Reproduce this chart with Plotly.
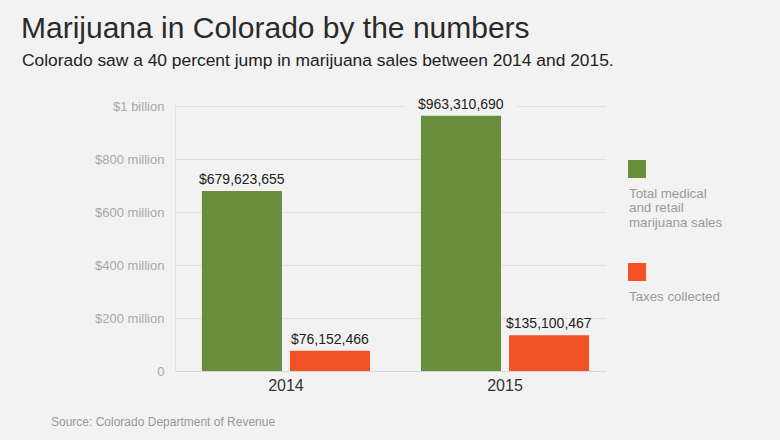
import plotly.graph_objects as go

years = ["2014", "2015"]
sales = [679623655, 963310690]
taxes = [76152466, 135100467]
series_lines = [["Total medical", "and retail", "marijuana sales"], ["Taxes collected"]]
series_names = [" ".join(l) for l in series_lines]
colors = ["#688d3b", "#f25125"]
tick_vals = [0, 200e6, 400e6, 600e6, 800e6, 1e9]
tick_text = ["0", "$200 million", "$400 million", "$600 million", "$800 million", "$1 billion"]

BG = "#f2f2f2"
FONT = "Liberation Sans"
BARGAP = 0.196
GROUPGAP = 0.091

# plot area in pixels
L, R, T, B = 176, 606, 105, 371
W, H = 780, 440
Y_TOP = 1.004e9

def money(v):
    return "${:,}".format(v)

x_pos = list(range(len(years)))

fig = go.Figure()
all_vals = [sales, taxes]
for name, vals, col in zip(series_names, all_vals, colors):
    fig.add_trace(go.Bar(
        x=x_pos, y=vals, name=name,
        marker=dict(color=col, line=dict(width=0)),
        showlegend=False, hoverinfo="y",
    ))

fig.update_layout(
    width=W, height=H,
    paper_bgcolor=BG, plot_bgcolor=BG,
    margin=dict(l=L, r=W - R, t=T, b=H - B, pad=0),
    barmode="group", bargap=BARGAP, bargroupgap=GROUPGAP,
    font=dict(family=FONT),
    xaxis=dict(
        range=[-0.502, 1.461], tickvals=x_pos, ticktext=years,
        showgrid=False, zeroline=False, showline=False, ticks="",
        ticklabelstandoff=3,
        tickfont=dict(family=FONT, size=16, color="#333333"),
    ),
    yaxis=dict(
        range=[0, Y_TOP], tickvals=tick_vals, ticktext=tick_text,
        showgrid=True, gridcolor="#e0e0e0", gridwidth=1,
        zeroline=True, zerolinecolor="#d8d8d8", zerolinewidth=1,
        showline=True, linecolor="#e0e0e0", linewidth=1,
        ticks="", ticklabelstandoff=8,
        tickfont=dict(family=FONT, size=13, color="#a8a8a8"),
    ),
)

# value labels above bars; a background patch (between grid and bars) hides the gridline
n_series = len(all_vals)
slot = (1 - BARGAP) / n_series
for s, vals in enumerate(all_vals):
    off = -(1 - BARGAP) / 2 + slot * (s + 0.5)
    for i, v in enumerate(vals):
        xc = x_pos[i] + off
        fig.add_shape(type="rect", xref="x", yref="y", layer="between",
                      xsizemode="pixel", xanchor=xc, x0=-56, x1=56,
                      ysizemode="pixel", yanchor=v, y0=4, y1=16,
                      fillcolor=BG, line=dict(width=0))
        fig.add_annotation(x=xc, y=v, xref="x", yref="y",
                           text=money(v), showarrow=False,
                           xanchor="center", yanchor="bottom", yshift=2,
                           font=dict(family=FONT, size=14, color="#222222"))

# Title, subtitle, source (pixel placement relative to paper)
def px_x(px):
    return (px - L) / (R - L)

def px_y(py):
    return (B - py) / (B - T)

fig.add_annotation(text="Marijuana in Colorado by the numbers", xref="paper", yref="paper",
                   x=px_x(19), y=px_y(27), xanchor="left", yanchor="middle",
                   showarrow=False, font=dict(family=FONT, size=30, color="#2a2a2a"))
fig.add_annotation(text="Colorado saw a 40 percent jump in marijuana sales between 2014 and 2015.",
                   xref="paper", yref="paper", x=px_x(20), y=px_y(60),
                   xanchor="left", yanchor="middle", showarrow=False,
                   font=dict(family=FONT, size=17.4, color="#222222"))
fig.add_annotation(text="Source: Colorado Department of Revenue", xref="paper", yref="paper",
                   x=px_x(49), y=px_y(422), xanchor="left", yanchor="middle",
                   showarrow=False, font=dict(family=FONT, size=12, color="#999999"))

# Custom legend: swatch above text lines
legend_tops = [160, 263]
for lines, col, top in zip(series_lines, colors, legend_tops):
    fig.add_shape(type="rect", xref="paper", yref="paper",
                  x0=px_x(628), x1=px_x(646), y0=px_y(top + 18), y1=px_y(top),
                  fillcolor=col, line=dict(width=0))
    for k, line in enumerate(lines):
        fig.add_annotation(text=line, xref="paper", yref="paper",
                           x=px_x(627), y=px_y(top + 33 + 14.7 * k),
                           xanchor="left", yanchor="middle", showarrow=False,
                           font=dict(family=FONT, size=13.3, color="#9a9a9a"))

fig.write_html("out.html", config={"displayModeBar": False},
               post_script="document.body.style.margin='0';")
